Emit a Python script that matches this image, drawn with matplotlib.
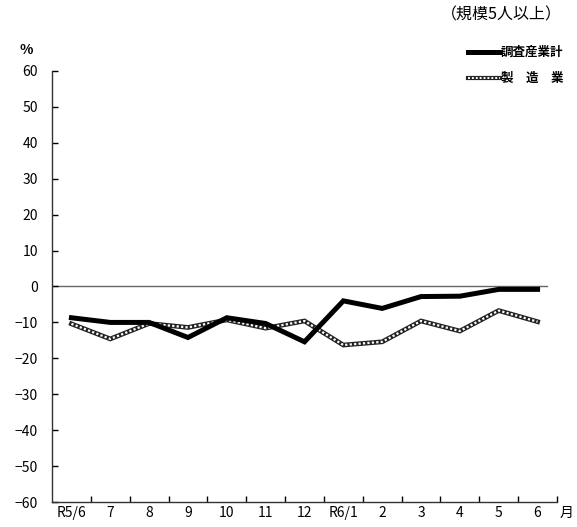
import matplotlib
matplotlib.use("Agg")
import matplotlib.pyplot as plt
import numpy as np

plt.rcParams["font.family"] = ["Noto Sans CJK JP", "DejaVu Sans"]

months = ["R5/6", "7", "8", "9", "10", "11", "12", "R6/1", "2", "3", "4", "5", "6"]
total = [-8.7, -10.0, -10.0, -14.2, -8.7, -10.3, -15.4, -4.0, -6.1, -2.8, -2.7, -0.8, -0.8]
manuf = [-10.4, -14.6, -10.3, -11.4, -9.3, -11.6, -9.6, -16.3, -15.4, -9.6, -12.4, -6.7, -9.8]
yticks = [-60, -50, -40, -30, -20, -10, 0, 10, 20, 30, 40, 50, 60]


def main():
    fig = plt.figure(figsize=(5.77, 5.27), dpi=100)
    ax = fig.add_axes([52 / 577, 1 - 502 / 527, 505 / 577, 431 / 527])

    x = np.arange(len(months))

    # zero line
    ax.plot([-0.5, 12.25], [0, 0], color="#666666", lw=1.0, zorder=1)

    # manufacturing: outlined dotted line
    ax.plot(x, manuf, color="#222222", lw=3.4, solid_joinstyle="miter", zorder=2)
    ax.plot(x, manuf, color="white", lw=1.6, linestyle=(0, (1, 1)), zorder=3)
    # total industries
    ax.plot(x, total, color="black", lw=3.6, solid_joinstyle="miter", zorder=4)

    ax.set_xlim(-0.5, len(months) - 0.5)
    ax.set_ylim(-60, 60)

    ax.set_yticks(yticks)
    ax.set_yticklabels([str(v).replace("-", "\u2212") for v in yticks], fontsize=10)
    ax.tick_params(axis="y", direction="in", length=4, pad=10, width=1)

    ax.set_xticks(np.arange(len(months)) + 0.5)
    ax.set_xticklabels([])
    ax.set_xticks(x, minor=True)
    ax.set_xticklabels(months, minor=True, fontsize=10)
    ax.tick_params(axis="x", which="major", direction="in", length=4, width=1)
    ax.tick_params(axis="x", which="minor", length=0, pad=3)

    for s in ["top", "right"]:
        ax.spines[s].set_visible(False)
    for s in ["left", "bottom"]:
        ax.spines[s].set_color("#333333")
        ax.spines[s].set_linewidth(1.0)

    fig.text(20 / 577, 1 - 50 / 527, "%", fontsize=10, ha="left", va="center",
             fontweight="bold")
    fig.text(567 / 577, 1 - 513 / 527, "月", fontsize=10, ha="center", va="center")
    fig.text(562 / 577, 1 - 15 / 527, "（規模5人以上）", fontsize=11.5, ha="right",
             va="center")

    # legend
    lx0, lx1 = 468 / 577, 500 / 577
    ly1, ly2 = 1 - 52 / 527, 1 - 78 / 527
    fig.add_artist(plt.Line2D([lx0, lx1], [ly1, ly1], color="black", lw=3.6))
    fig.add_artist(plt.Line2D([lx0, lx1], [ly2, ly2], color="#222222", lw=3.0))
    fig.add_artist(plt.Line2D([lx0, lx1], [ly2, ly2], color="white", lw=1.4,
                              linestyle=(0, (1, 1))))
    fig.text(501 / 577, ly1, "調査産業計", fontsize=9, ha="left", va="center",
             fontweight="bold")
    fig.text(501 / 577, ly2, "製　造　業", fontsize=9, ha="left", va="center",
             fontweight="bold")

    fig.savefig("out.png", dpi=100)
    plt.close(fig)


if __name__ == "__main__":
    main()
